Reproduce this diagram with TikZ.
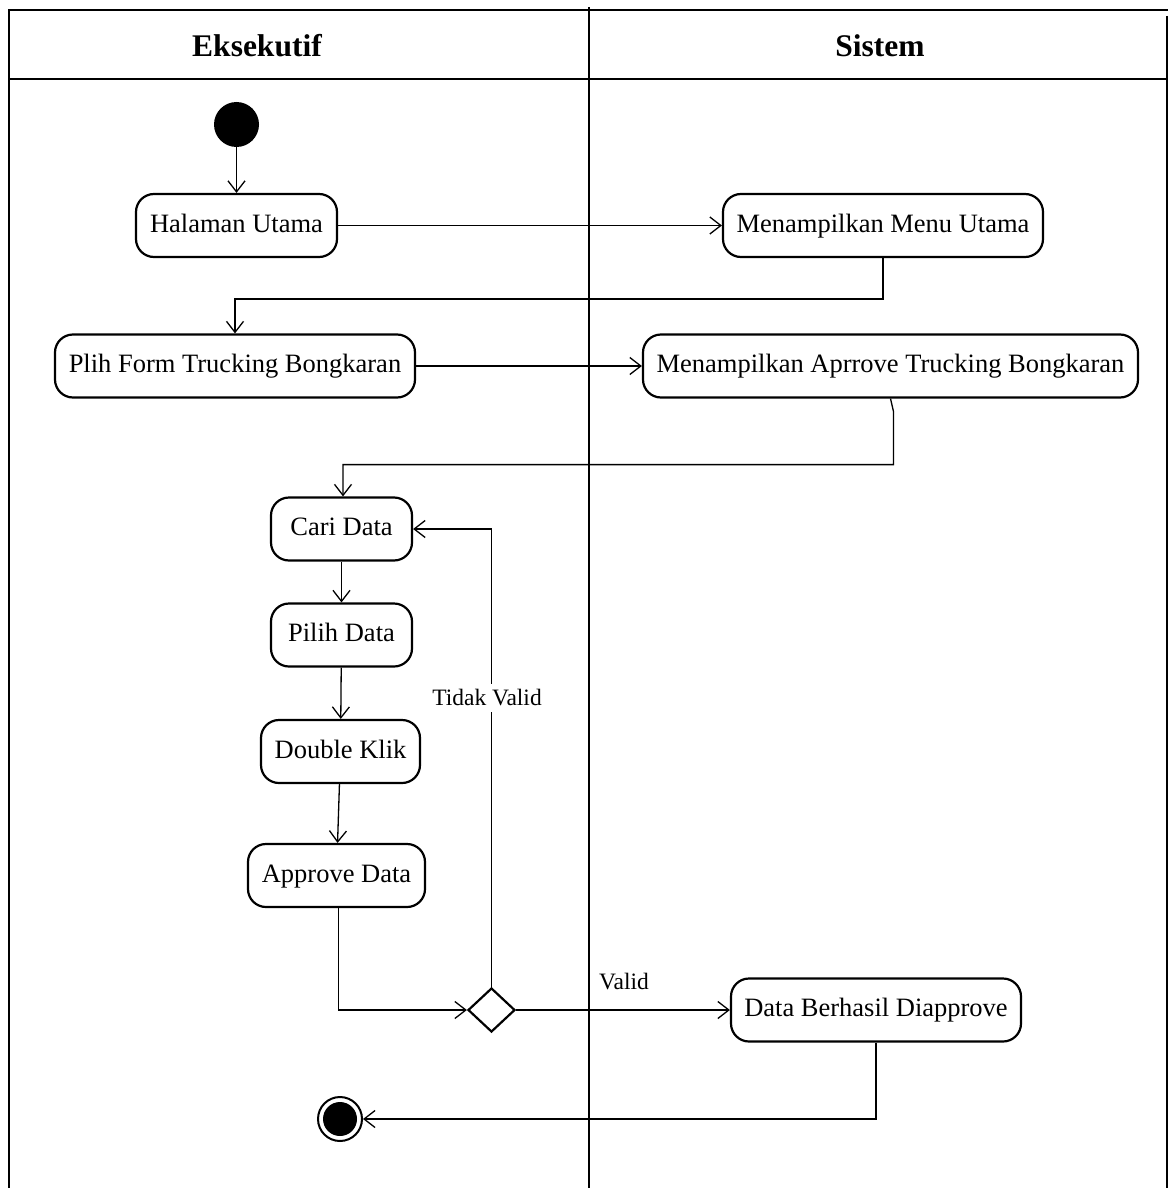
\documentclass[tikz,border=0pt]{standalone}
\usepackage{fontspec}
\setmainfont{Liberation Serif}
\usetikzlibrary{arrows.meta,shapes.geometric}

\begin{document}
\begin{tikzpicture}[x=0.5pt,y=-0.5pt,
  act/.style={draw,line width=1.1pt,rounded corners=9pt,minimum height=31.5pt,
    inner sep=0pt,text height=0.7em,text depth=0.02em,
    font=\fontsize{13.25pt}{15pt}\selectfont},
  flow/.style={line width=0.65pt,-{Straight Barb[length=5.5pt,width=8.5pt,line width=0.65pt]}},
  frame/.style={line width=1.2pt},
  lane/.style={font=\fontsize{15.75pt}{18pt}\selectfont\bfseries},
  guard/.style={font=\fontsize{11.75pt}{14pt}\selectfont,inner sep=1pt}]

\useasboundingbox (0,0) rectangle (1168,1188);

% swimlane frame
\draw[frame] (9,1188) -- (9,10) -- (1168,10);
\draw[frame] (1167,16) -- (1167,1188);
\draw[frame] (9,79) -- (1168,79);
\draw[frame] (589,7) -- (589,1188);
\node[lane] (lanea) at (257,46) {Eksekutif};
\node[lane] (laneb) at (880,46) {Sistem};

% start and end
\node[circle,fill=black,minimum size=22.5pt,inner sep=0pt] (start) at (236.5,124.5) {};
\node[circle,draw,line width=1pt,minimum size=22pt,inner sep=0pt] (stop) at (340,1119) {};
\node[circle,fill=black,minimum size=17pt,inner sep=0pt] at (stop.center) {};

% activities
\node[act,minimum width=100.5pt] (home) at (236.5,225.5) {Halaman Utama};
\node[act,minimum width=160pt] (menu) at (883,225.5) {Menampilkan Menu Utama};
\node[act,minimum width=180pt] (form) at (235,366) {Plih Form Trucking Bongkaran};
\node[act,minimum width=247.5pt] (appr) at (890.5,366) {Menampilkan Aprrove Trucking Bongkaran};
\node[act,minimum width=70.5pt] (cari) at (341.5,529) {Cari Data};
\node[act,minimum width=70.5pt] (pilih) at (341.5,635) {Pilih Data};
\node[act,minimum width=79.5pt] (dbl) at (340.5,751.5) {Double Klik};
\node[act,minimum width=88.5pt] (apv) at (336.5,875.5) {Approve Data};
\node[diamond,draw,line width=1.1pt,minimum width=23.5pt,minimum height=22pt,inner sep=0pt] (dec) at (491.5,1010) {};
\node[act,minimum width=145pt] (done) at (876,1010) {Data Berhasil Diapprove};

% flows
\draw[flow] (start) -- (home);
\draw[flow] (home) -- (menu);
\draw[flow] (menu.south) -- ++(0,41) -| (form.north);
\draw[flow] (form) -- (appr);
\draw[flow] (appr.south) -- ++(3,13) -- ++(0,53) -| ([xshift=0.75pt]cari.north);
\draw[flow] (cari) -- (pilih);
\draw[flow] (pilih) -- (dbl);
\draw[flow] (dbl) -- (apv);
\draw[flow] ([xshift=1pt]apv.south) |- (dec.west);
\draw[flow] (dec.north) |- (cari.east);
\draw[flow] (dec.east) -- (done.west);
\draw[flow] (done.south) |- (stop.east);

% guards
\node[guard,fill=white,inner ysep=3pt] (notvalid) at (487,698) {Tidak Valid};
\node[guard] (valid) at (624,982) {Valid};

\end{tikzpicture}
\end{document}
